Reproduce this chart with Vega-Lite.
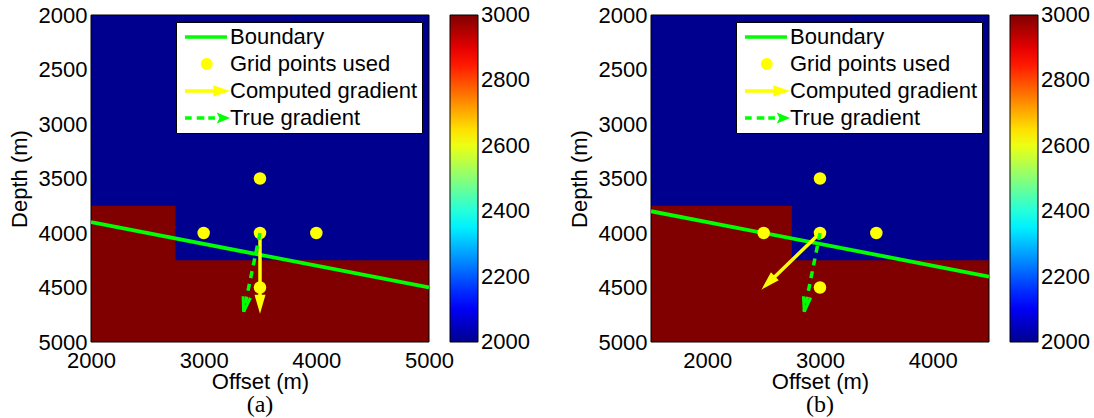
{
  "$schema": "https://vega.github.io/schema/vega-lite/v6.json",
  "padding": {"left": 8, "top": 4, "right": 0, "bottom": 0},
  "background": "white",
  "spacing": 38,
  "resolve": {"scale": {"color": "independent", "shape": "independent", "fill": "independent", "x": "independent", "y": "independent"}, "legend": {"color": "independent", "shape": "independent", "fill": "independent"}},
  "config": {
    "font": "Liberation Sans",
    "view": {"stroke": null},
    "axis": {"labelFont": "Liberation Sans", "labelFontSize": 22, "labelColor": "black", "titleFont": "Liberation Sans", "titleFontSize": 22, "titleFontWeight": "normal", "titleColor": "black", "grid": false, "ticks": false, "domain": false, "labelFlush": false, "labelOverlap": false},
    "title": {"font": "Liberation Serif", "fontSize": 24, "fontWeight": "normal", "color": "black"}
  },
  "datasets": {
    "cellsA": [
      {"x": 2000, "xEnd": 5000, "y": 2000, "yEnd": 5000, "velocity": 2000},
      {"x": 2000, "xEnd": 2750, "y": 3750, "yEnd": 5000, "velocity": 3000},
      {"x": 2000, "xEnd": 5000, "y": 4250, "yEnd": 5000, "velocity": 3000}
    ],
    "cellsB": [
      {"x": 1500, "xEnd": 4500, "y": 2000, "yEnd": 5000, "velocity": 2000},
      {"x": 1500, "xEnd": 2750, "y": 3750, "yEnd": 5000, "velocity": 3000},
      {"x": 1500, "xEnd": 4500, "y": 4250, "yEnd": 5000, "velocity": 3000}
    ],
    "boundaryA": [{"x": 2000, "y": 3900}, {"x": 5000, "y": 4500}],
    "boundaryB": [{"x": 1500, "y": 3800}, {"x": 4500, "y": 4400}],
    "pointsA": [
      {"series": "Grid points used", "x": 3500, "y": 3500},
      {"series": "Grid points used", "x": 3000, "y": 4000},
      {"series": "Grid points used", "x": 3500, "y": 4000},
      {"series": "Grid points used", "x": 4000, "y": 4000},
      {"series": "Grid points used", "x": 3500, "y": 4500}
    ],
    "pointsB": [
      {"series": "Grid points used", "x": 3000, "y": 3500},
      {"series": "Grid points used", "x": 2500, "y": 4000},
      {"series": "Grid points used", "x": 3000, "y": 4000},
      {"series": "Grid points used", "x": 3500, "y": 4000},
      {"series": "Grid points used", "x": 3000, "y": 4500}
    ],
    "arrowsA": [
      {"series": "Computed gradient", "x": 3500, "y": 4000, "xEnd": 3500, "yEnd": 4740},
      {"series": "True gradient", "x": 3500, "y": 4000, "xEnd": 3355, "yEnd": 4722}
    ],
    "arrowsB": [
      {"series": "Computed gradient", "x": 3000, "y": 4000, "xEnd": 2480, "yEnd": 4520},
      {"series": "True gradient", "x": 3000, "y": 4000, "xEnd": 2860, "yEnd": 4722}
    ]
  },
  "hconcat": [
    {
      "width": 338, "height": 327,
      "title": {"text": "(a)", "orient": "bottom", "anchor": "middle", "offset": 1},
      "encoding": {
        "x": {"field": "x", "type": "quantitative", "scale": {"domain": [2000, 5000], "nice": false, "zero": false}, "axis": {"title": "Offset (m)", "values": [2000, 3000, 4000, 5000], "format": "d", "labelPadding": 8, "titlePadding": 0}},
        "y": {"field": "y", "type": "quantitative", "scale": {"domain": [2000, 5000], "nice": false, "zero": false, "reverse": true}, "axis": {"title": "Depth (m)", "values": [2000, 2500, 3000, 3500, 4000, 4500, 5000], "format": "d", "labelPadding": 4, "titlePadding": 7}}
      },
      "layer": [
        {"data": {"name": "cellsA"}, "mark": {"type": "rect"},
         "encoding": {"x2": {"field": "xEnd"}, "y2": {"field": "yEnd"},
           "color": {"field": "velocity", "type": "quantitative",
             "scale": {"domain": [2000, 2111, 2365, 2619, 2873, 3000], "range": ["#00008f", "#0000ff", "#00ffff", "#ffff00", "#ff0000", "#800000"], "interpolate": "rgb", "nice": false, "zero": false},
             "legend": {"title": null, "orient": "right", "offset": 21, "padding": 0, "direction": "vertical", "gradientLength": 327, "gradientThickness": 28, "gradientStrokeColor": "black", "gradientStrokeWidth": 1, "values": [2000, 2200, 2400, 2600, 2800, 3000], "format": "d", "labelFontSize": 22, "labelFont": "Liberation Sans", "labelColor": "black", "labelOffset": 3, "labelOverlap": false,
               "encode": {"labels": {"update": {"baseline": {"value": "middle"}}}}}}}},
        {"data": {"name": "cellsA"},
         "transform": [{"aggregate": [{"op": "min", "field": "x", "as": "x"}, {"op": "max", "field": "xEnd", "as": "xEnd"}, {"op": "min", "field": "y", "as": "y"}, {"op": "max", "field": "yEnd", "as": "yEnd"}]}],
         "mark": {"type": "rect", "filled": false, "stroke": "black", "strokeWidth": 1},
         "encoding": {"x2": {"field": "xEnd"}, "y2": {"field": "yEnd"}}},
        {"data": {"name": "boundaryA"}, "mark": {"type": "line", "color": "#00ff00", "strokeWidth": 3.8, "clip": true}, "encoding": {}},
        {"data": {"name": "pointsA"}, "mark": {"type": "point", "filled": true, "color": "#ffff00", "size": 156, "opacity": 1, "shape": "circle"}, "encoding": {}},
        {"data": {"name": "pointsA"}, "mark": {"type": "point", "filled": true, "opacity": 0},
         "encoding": {
           "shape": {"field": "series", "type": "nominal",
             "scale": {"domain": ["Boundary", "Grid points used", "Computed gradient", "True gradient"], "range": ["M-0.55,-0.16L3.27,-0.16L3.27,0.16L-0.55,0.16Z", "M0.894,0A0.536,0.536,0,1,0,1.966,0A0.536,0.536,0,1,0,0.894,0Z", "M-0.55,-0.15L2.2,-0.15L2.2,0.15L-0.55,0.15ZM2.03,-0.53L3.55,0L2.03,0.53Z", "M-0.55,-0.16L0.06,-0.16L0.06,0.16L-0.55,0.16ZM0.52,-0.16L1.21,-0.16L1.21,0.16L0.52,0.16ZM1.57,-0.16L2.18,-0.16L2.18,0.16L1.57,0.16ZM2.34,-0.5L3.55,0L2.34,0.5L2.59,0Z"]},
             "legend": {"title": null, "orient": "top-right", "offset": 7, "padding": 4, "fillColor": "white", "strokeColor": "black", "symbolSize": 484, "symbolOpacity": 1, "symbolStrokeWidth": 0, "labelFontSize": 22, "labelFont": "Liberation Sans", "labelColor": "black", "labelOffset": 28, "labelLimit": 0, "rowPadding": 5}},
           "fill": {"field": "series", "type": "nominal",
             "scale": {"domain": ["Boundary", "Grid points used", "Computed gradient", "True gradient"], "range": ["#00ff00", "#ffff00", "#ffff00", "#00ff00"]},
             "legend": {"title": null, "orient": "top-right", "offset": 7, "padding": 4, "fillColor": "white", "strokeColor": "black", "symbolSize": 484, "symbolOpacity": 1, "symbolStrokeWidth": 0, "labelFontSize": 22, "labelFont": "Liberation Sans", "labelColor": "black", "labelOffset": 28, "labelLimit": 0, "rowPadding": 5}}
         }},
        {"data": {"name": "arrowsA"}, "transform": [{"filter": "datum.series === 'Computed gradient'"}],
         "mark": {"type": "rule", "color": "#ffff00", "strokeWidth": 3.5, "strokeDash": [68, 1000]},
         "encoding": {"x2": {"field": "xEnd"}, "y2": {"field": "yEnd"}}},
        {"data": {"name": "arrowsA"}, "transform": [{"filter": "datum.series === 'Computed gradient'"}],
         "mark": {"type": "point", "shape": "M0,0L-0.58,-2L0.58,-2Z", "filled": true, "color": "#ffff00", "size": 361, "angle": 0, "opacity": 1},
         "encoding": {"x": {"field": "xEnd", "type": "quantitative", "title": "Offset (m)", "scale": {"domain": [2000, 5000], "nice": false, "zero": false}}, "y": {"field": "yEnd", "type": "quantitative", "title": "Depth (m)", "scale": {"domain": [2000, 5000], "nice": false, "zero": false, "reverse": true}}}},
        {"data": {"name": "arrowsA"}, "transform": [{"filter": "datum.series === 'True gradient'"}],
         "mark": {"type": "rule", "color": "#00ff00", "strokeWidth": 3.5, "strokeDash": [7, 6]},
         "encoding": {"x2": {"field": "xEnd"}, "y2": {"field": "yEnd"}}},
        {"data": {"name": "arrowsA"}, "transform": [{"filter": "datum.series === 'True gradient'"}],
         "mark": {"type": "point", "shape": "M-0.5,-2L0,0L0.5,-2", "filled": false, "color": "#00ff00", "strokeWidth": 3, "size": 225, "angle": 12, "opacity": 1},
         "encoding": {"x": {"field": "xEnd", "type": "quantitative", "title": "Offset (m)", "scale": {"domain": [2000, 5000], "nice": false, "zero": false}}, "y": {"field": "yEnd", "type": "quantitative", "title": "Depth (m)", "scale": {"domain": [2000, 5000], "nice": false, "zero": false, "reverse": true}}}}
      ]
    },
    {
      "width": 338, "height": 327,
      "title": {"text": "(b)", "orient": "bottom", "anchor": "middle", "offset": 1},
      "encoding": {
        "x": {"field": "x", "type": "quantitative", "scale": {"domain": [1500, 4500], "nice": false, "zero": false}, "axis": {"title": "Offset (m)", "values": [2000, 3000, 4000], "format": "d", "labelPadding": 8, "titlePadding": 0}},
        "y": {"field": "y", "type": "quantitative", "scale": {"domain": [2000, 5000], "nice": false, "zero": false, "reverse": true}, "axis": {"title": "Depth (m)", "values": [2000, 2500, 3000, 3500, 4000, 4500, 5000], "format": "d", "labelPadding": 4, "titlePadding": 7}}
      },
      "layer": [
        {"data": {"name": "cellsB"}, "mark": {"type": "rect"},
         "encoding": {"x2": {"field": "xEnd"}, "y2": {"field": "yEnd"},
           "color": {"field": "velocity", "type": "quantitative",
             "scale": {"domain": [2000, 2111, 2365, 2619, 2873, 3000], "range": ["#00008f", "#0000ff", "#00ffff", "#ffff00", "#ff0000", "#800000"], "interpolate": "rgb", "nice": false, "zero": false},
             "legend": {"title": null, "orient": "right", "offset": 21, "padding": 0, "direction": "vertical", "gradientLength": 327, "gradientThickness": 28, "gradientStrokeColor": "black", "gradientStrokeWidth": 1, "values": [2000, 2200, 2400, 2600, 2800, 3000], "format": "d", "labelFontSize": 22, "labelFont": "Liberation Sans", "labelColor": "black", "labelOffset": 3, "labelOverlap": false,
               "encode": {"labels": {"update": {"baseline": {"value": "middle"}}}}}}}},
        {"data": {"name": "cellsB"},
         "transform": [{"aggregate": [{"op": "min", "field": "x", "as": "x"}, {"op": "max", "field": "xEnd", "as": "xEnd"}, {"op": "min", "field": "y", "as": "y"}, {"op": "max", "field": "yEnd", "as": "yEnd"}]}],
         "mark": {"type": "rect", "filled": false, "stroke": "black", "strokeWidth": 1},
         "encoding": {"x2": {"field": "xEnd"}, "y2": {"field": "yEnd"}}},
        {"data": {"name": "boundaryB"}, "mark": {"type": "line", "color": "#00ff00", "strokeWidth": 3.8, "clip": true}, "encoding": {}},
        {"data": {"name": "pointsB"}, "mark": {"type": "point", "filled": true, "color": "#ffff00", "size": 156, "opacity": 1, "shape": "circle"}, "encoding": {}},
        {"data": {"name": "pointsB"}, "mark": {"type": "point", "filled": true, "opacity": 0},
         "encoding": {
           "shape": {"field": "series", "type": "nominal",
             "scale": {"domain": ["Boundary", "Grid points used", "Computed gradient", "True gradient"], "range": ["M-0.55,-0.16L3.27,-0.16L3.27,0.16L-0.55,0.16Z", "M0.894,0A0.536,0.536,0,1,0,1.966,0A0.536,0.536,0,1,0,0.894,0Z", "M-0.55,-0.15L2.2,-0.15L2.2,0.15L-0.55,0.15ZM2.03,-0.53L3.55,0L2.03,0.53Z", "M-0.55,-0.16L0.06,-0.16L0.06,0.16L-0.55,0.16ZM0.52,-0.16L1.21,-0.16L1.21,0.16L0.52,0.16ZM1.57,-0.16L2.18,-0.16L2.18,0.16L1.57,0.16ZM2.34,-0.5L3.55,0L2.34,0.5L2.59,0Z"]},
             "legend": {"title": null, "orient": "top-right", "offset": 7, "padding": 4, "fillColor": "white", "strokeColor": "black", "symbolSize": 484, "symbolOpacity": 1, "symbolStrokeWidth": 0, "labelFontSize": 22, "labelFont": "Liberation Sans", "labelColor": "black", "labelOffset": 28, "labelLimit": 0, "rowPadding": 5}},
           "fill": {"field": "series", "type": "nominal",
             "scale": {"domain": ["Boundary", "Grid points used", "Computed gradient", "True gradient"], "range": ["#00ff00", "#ffff00", "#ffff00", "#00ff00"]},
             "legend": {"title": null, "orient": "top-right", "offset": 7, "padding": 4, "fillColor": "white", "strokeColor": "black", "symbolSize": 484, "symbolOpacity": 1, "symbolStrokeWidth": 0, "labelFontSize": 22, "labelFont": "Liberation Sans", "labelColor": "black", "labelOffset": 28, "labelLimit": 0, "rowPadding": 5}}
         }},
        {"data": {"name": "arrowsB"}, "transform": [{"filter": "datum.series === 'Computed gradient'"}],
         "mark": {"type": "rule", "color": "#ffff00", "strokeWidth": 3.5, "strokeDash": [68, 1000]},
         "encoding": {"x2": {"field": "xEnd"}, "y2": {"field": "yEnd"}}},
        {"data": {"name": "arrowsB"}, "transform": [{"filter": "datum.series === 'Computed gradient'"}],
         "mark": {"type": "point", "shape": "M0,0L-0.58,-2L0.58,-2Z", "filled": true, "color": "#ffff00", "size": 361, "angle": 45, "opacity": 1},
         "encoding": {"x": {"field": "xEnd", "type": "quantitative", "title": "Offset (m)", "scale": {"domain": [1500, 4500], "nice": false, "zero": false}}, "y": {"field": "yEnd", "type": "quantitative", "title": "Depth (m)", "scale": {"domain": [2000, 5000], "nice": false, "zero": false, "reverse": true}}}},
        {"data": {"name": "arrowsB"}, "transform": [{"filter": "datum.series === 'True gradient'"}],
         "mark": {"type": "rule", "color": "#00ff00", "strokeWidth": 3.5, "strokeDash": [7, 6]},
         "encoding": {"x2": {"field": "xEnd"}, "y2": {"field": "yEnd"}}},
        {"data": {"name": "arrowsB"}, "transform": [{"filter": "datum.series === 'True gradient'"}],
         "mark": {"type": "point", "shape": "M-0.5,-2L0,0L0.5,-2", "filled": false, "color": "#00ff00", "strokeWidth": 3, "size": 225, "angle": 11, "opacity": 1},
         "encoding": {"x": {"field": "xEnd", "type": "quantitative", "title": "Offset (m)", "scale": {"domain": [1500, 4500], "nice": false, "zero": false}}, "y": {"field": "yEnd", "type": "quantitative", "title": "Depth (m)", "scale": {"domain": [2000, 5000], "nice": false, "zero": false, "reverse": true}}}}
      ]
    }
  ]
}
